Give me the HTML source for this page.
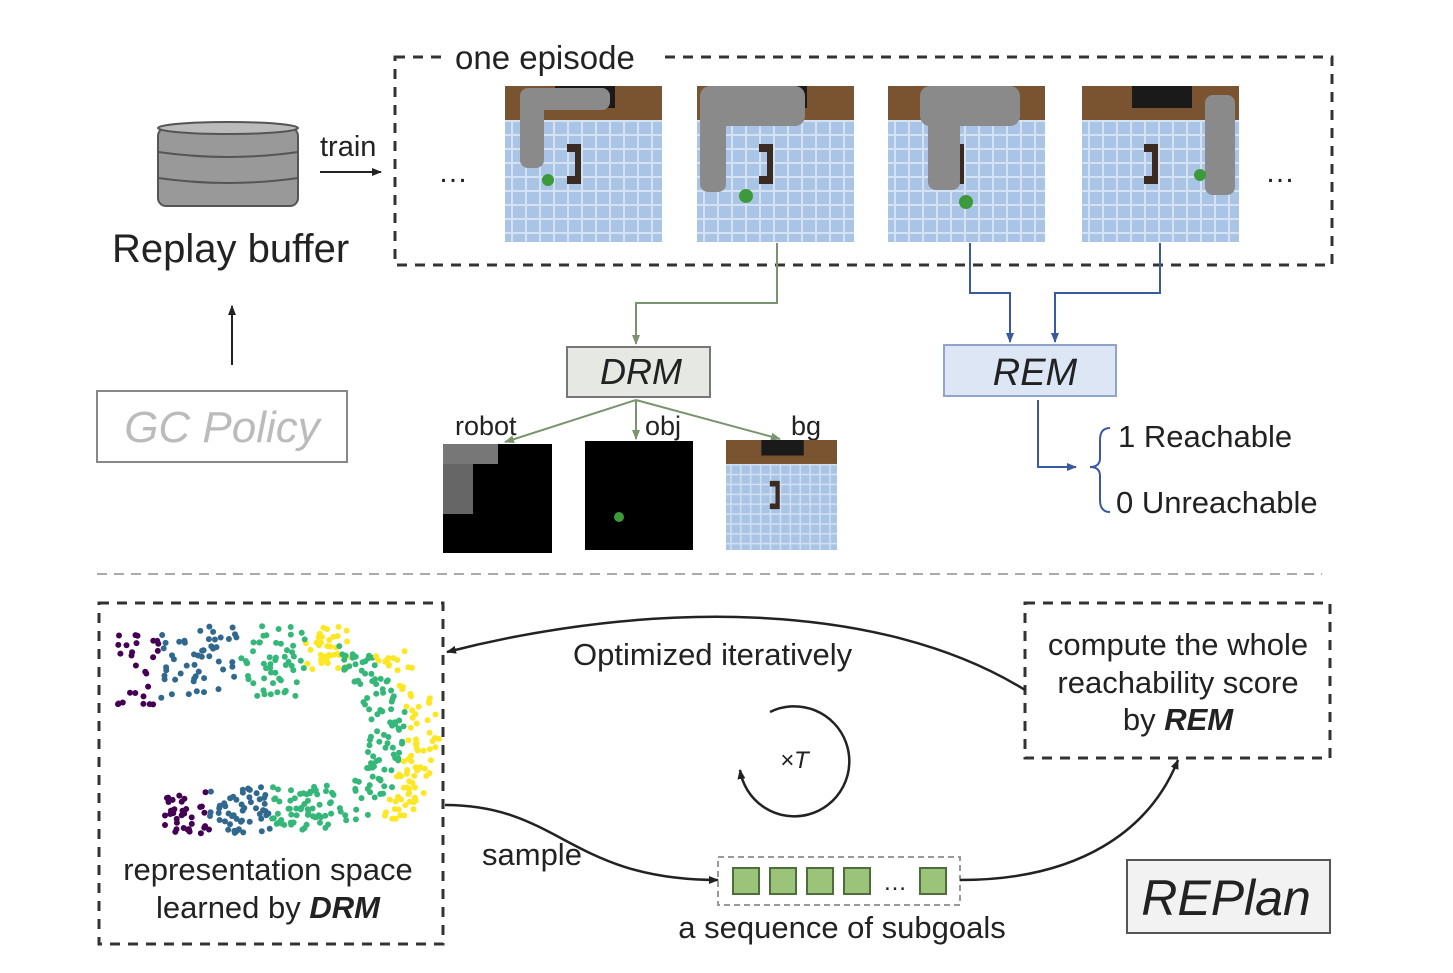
<!DOCTYPE html>
<html><head><meta charset="utf-8"><style>
body{margin:0;background:#fff;}
svg{display:block;font-family:"Liberation Sans",sans-serif;}
</style></head><body>
<svg id="s" width="1453" height="973" viewBox="0 0 1453 973" xmlns="http://www.w3.org/2000/svg">
<defs>
<marker id="a" markerWidth="10" markerHeight="8" refX="9" refY="4" orient="auto" markerUnits="userSpaceOnUse"><path d="M0,0 L10,4 L0,8 z" fill="#222"/></marker>
<marker id="ag" markerWidth="10" markerHeight="8" refX="9" refY="4" orient="auto" markerUnits="userSpaceOnUse"><path d="M0,0 L10,4 L0,8 z" fill="#7a9470"/></marker>
<marker id="ab" markerWidth="10" markerHeight="8" refX="9" refY="4" orient="auto" markerUnits="userSpaceOnUse"><path d="M0,0 L10,4 L0,8 z" fill="#3a5aa0"/></marker>
<pattern id="grid" width="14" height="14" patternUnits="userSpaceOnUse"><rect width="14" height="14" fill="#a9c4e4"/><path d="M7,0V14M0,7H14" stroke="#d4e2f4" stroke-width="2"/></pattern>
<g id="scene"><rect x="0" y="0" width="157" height="156" fill="url(#grid)"/><rect x="0" y="0" width="157" height="34" fill="#7a5331"/><rect x="50" y="0" width="60" height="22" fill="#1a1a1a"/><path d="M62,58h14v40h-14v-8h8v-24h-8z" fill="#3a2a20"/></g>
</defs>
<rect x="395" y="57" width="937" height="208" fill="none" stroke="#333" stroke-width="3" stroke-dasharray="10,8"/>
<rect x="445" y="40" width="215" height="34" fill="#fff"/>
<text x="455" y="69" font-size="33" fill="#222">one episode</text>
<text x="438" y="182" font-size="30" fill="#222">…</text>
<text x="1265" y="182" font-size="30" fill="#222">…</text>
<use href="#scene" x="505" y="86"/>
<use href="#scene" x="697" y="86"/>
<use href="#scene" x="888" y="86"/>
<use href="#scene" x="1082" y="86"/>
<g fill="#8a8a8a"><rect x="520" y="88" width="24" height="80" rx="8"/><rect x="530" y="88" width="80" height="22" rx="8"/><circle cx="548" cy="180" r="6" fill="#3c9a3c"/>
<rect x="700" y="110" width="26" height="82" rx="8"/><rect x="700" y="86" width="105" height="40" rx="10"/><circle cx="746" cy="196" r="7" fill="#3c9a3c"/>
<rect x="928" y="120" width="32" height="70" rx="8"/><rect x="920" y="86" width="100" height="40" rx="10"/><circle cx="966" cy="202" r="7" fill="#3c9a3c"/>
<rect x="1205" y="95" width="30" height="100" rx="8"/><circle cx="1200" cy="175" r="6" fill="#3c9a3c"/></g>
<g fill="#999" stroke="#555" stroke-width="2"><rect x="158" y="128" width="140" height="78" rx="8"/></g>
<g fill="none" stroke="#555" stroke-width="2"><ellipse cx="228" cy="128" rx="70" ry="6" fill="#bbb"/><path d="M158,152 Q228,162 298,152 M158,178 Q228,188 298,178"/></g>
<text x="112" y="262" font-size="40" fill="#222">Replay buffer</text>
<text x="320" y="156" font-size="29" fill="#222">train</text>
<line x1="320" y1="172" x2="381" y2="172" stroke="#222" stroke-width="2" marker-end="url(#a)"/>
<line x1="232" y1="365" x2="232" y2="306" stroke="#222" stroke-width="2" marker-end="url(#a)"/>
<rect x="97" y="391" width="250" height="71" fill="#fff" stroke="#888" stroke-width="2"/>
<text x="222" y="442" font-size="44" font-style="italic" fill="#bbb" text-anchor="middle">GC Policy</text>
<polyline points="777,243 777,303 636,303 636,344" fill="none" stroke="#7a9470" stroke-width="2" marker-end="url(#ag)"/>
<rect x="567" y="347" width="143" height="50" fill="#e6e9e3" stroke="#777" stroke-width="2"/>
<text x="641" y="384" font-size="36" font-style="italic" fill="#222" text-anchor="middle">DRM</text>
<g stroke="#7a9470" stroke-width="2" fill="none"><line x1="636" y1="400" x2="505" y2="442" marker-end="url(#ag)"/><line x1="636" y1="400" x2="636" y2="439" marker-end="url(#ag)"/><line x1="636" y1="400" x2="780" y2="439" marker-end="url(#ag)"/></g>
<text x="455" y="435" font-size="27" fill="#222">robot</text>
<text x="645" y="435" font-size="27" fill="#222">obj</text>
<text x="791" y="435" font-size="27" fill="#222">bg</text>
<rect x="443" y="444" width="109" height="109" fill="#000"/>
<rect x="443" y="444" width="30" height="70" fill="#666"/><rect x="443" y="444" width="55" height="20" fill="#777"/>
<rect x="585" y="441" width="108" height="109" fill="#000"/><circle cx="619" cy="517" r="5" fill="#3c9a3c"/>
<svg x="726" y="440" width="111" height="110" viewBox="0 0 157 156" preserveAspectRatio="none"><use href="#scene"/></svg>
<g stroke="#3a5aa0" stroke-width="2" fill="none"><polyline points="970,243 970,293 1010,293 1010,342" marker-end="url(#ab)"/><polyline points="1160,243 1160,293 1055,293 1055,342" marker-end="url(#ab)"/>
<polyline points="1038,400 1038,467 1076,467" marker-end="url(#ab)"/>
<path d="M1110,428 Q1100,428 1100,440 L1100,458 Q1100,467 1090,467 Q1100,467 1100,476 L1100,500 Q1100,512 1110,512"/></g>
<rect x="944" y="345" width="172" height="51" fill="#dce6f4" stroke="#8fa6c9" stroke-width="2"/>
<text x="1035" y="385" font-size="38" font-style="italic" fill="#222" text-anchor="middle">REM</text>
<text x="1118" y="447" font-size="31" fill="#222">1 Reachable</text>
<text x="1116" y="513" font-size="31" fill="#222">0 Unreachable</text>
<line x1="97" y1="574" x2="1322" y2="574" stroke="#aaa" stroke-width="2" stroke-dasharray="10,7"/>
<rect x="99" y="603" width="344" height="341" fill="none" stroke="#333" stroke-width="3" stroke-dasharray="10,8"/>
<g id="dots"></g>
<text x="268" y="880" font-size="31" fill="#222" text-anchor="middle">representation space</text>
<text x="268" y="918" font-size="31" fill="#222" text-anchor="middle">learned by <tspan font-weight="bold" font-style="italic">DRM</tspan></text>
<rect x="1025" y="603" width="305" height="155" fill="none" stroke="#333" stroke-width="3" stroke-dasharray="10,8"/>
<text x="1178" y="655" font-size="31" fill="#222" text-anchor="middle">compute the whole</text>
<text x="1178" y="693" font-size="31" fill="#222" text-anchor="middle">reachability score</text>
<text x="1178" y="730" font-size="31" fill="#222" text-anchor="middle">by <tspan font-weight="bold" font-style="italic">REM</tspan></text>
<path d="M1025,690 C880,600 650,600 447,652" fill="none" stroke="#222" stroke-width="2.5" marker-end="url(#a)"/>
<text x="573" y="665" font-size="31" fill="#222">Optimized iteratively</text>
<path d="M770,712 A55,55 0 1 1 740,770" fill="none" stroke="#222" stroke-width="2.5" marker-end="url(#a)"/>
<text x="780" y="768" font-size="24" font-style="italic" fill="#222">×T</text>
<path d="M445,805 C560,805 570,880 718,880" fill="none" stroke="#222" stroke-width="2.5" marker-end="url(#a)"/>
<text x="482" y="865" font-size="31" fill="#222">sample</text>
<rect x="718" y="857" width="242" height="48" fill="none" stroke="#999" stroke-width="2" stroke-dasharray="6,4"/>
<g fill="#9bc37a" stroke="#4d6e3a" stroke-width="2"><rect x="733" y="868" width="26" height="26"/><rect x="770" y="868" width="26" height="26"/><rect x="807" y="868" width="26" height="26"/><rect x="844" y="868" width="26" height="26"/><rect x="920" y="868" width="26" height="26"/></g>
<text x="883" y="890" font-size="24" fill="#222">…</text>
<path d="M960,880 C1080,880 1150,830 1178,760" fill="none" stroke="#222" stroke-width="2.5" marker-end="url(#a)"/>
<text x="842" y="938" font-size="31" fill="#222" text-anchor="middle">a sequence of subgoals</text>
<rect x="1127" y="860" width="203" height="73" fill="#f2f2f2" stroke="#555" stroke-width="2"/>
<text x="1226" y="915" font-size="50" font-style="italic" fill="#222" text-anchor="middle">REPlan</text>
</svg>
<script>
(function(){var g=document.getElementById('dots'),ns='http://www.w3.org/2000/svg',seed=7;
function r(){seed=(seed*16807)%2147483647;return seed/2147483647;}
var cols=['#440154','#31688e','#35b779','#fde725'];
function dot(x,y,c){var e=document.createElementNS(ns,'circle');e.setAttribute('cx',x.toFixed(1));e.setAttribute('cy',y.toFixed(1));e.setAttribute('r',3);e.setAttribute('fill',cols[c]);g.appendChild(e);}
var i,x,y,c;
// top arm
for(i=0;i<170;i++){x=118+r()*230;y=625+r()*75+(x<160?10:0);
 if(x>300&&y>660){y-=30;}
 c=x<160?0:(x<240?1:(x<305?2:3));dot(x,y,c);}
// right band
for(i=0;i<200;i++){var t=r();var cy=650+t*170;var cx=320+40*Math.sin(Math.PI*t)+10;var w=r();x=cx+w*75;y=cy+(r()-0.5)*10;
 c=w>0.5?3:2;dot(x,y,c);}
// bottom arm
for(i=0;i<150;i++){x=165+r()*170;y=792+r()*45-(x-165)*0.05;
 c=x<210?0:(x<270?1:2);dot(x,y,c);}
})();
</script>
</body></html>
